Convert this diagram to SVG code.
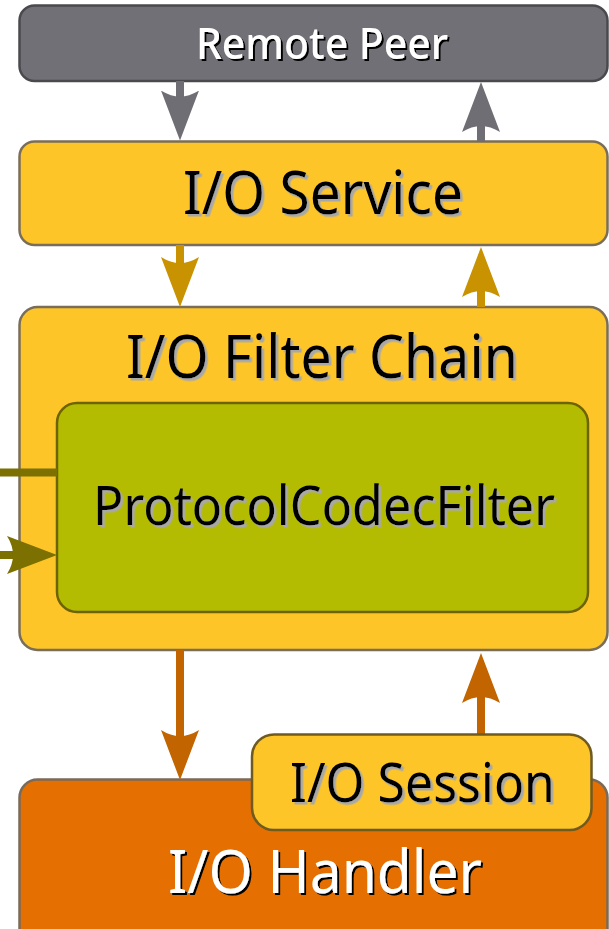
<svg xmlns="http://www.w3.org/2000/svg" width="609" height="929" viewBox="0 0 609 929">
<defs>
<style>
.box{stroke-width:2.5}
.t{font-family:"Noto Sans","Open Sans","DejaVu Sans",sans-serif;}
.dark{fill:#000;filter:url(#shL)}
.light{fill:#fff;filter:url(#shD)}
.shaft{fill:none;stroke-width:8;stroke-linecap:butt}
</style>
<filter id="shL" x="-5%" y="-20%" width="115%" height="150%">
<feDropShadow dx="2.5" dy="2.5" stdDeviation="0" flood-color="#a8a8a8" flood-opacity="1"/>
</filter>
<filter id="shD" x="-5%" y="-20%" width="115%" height="150%">
<feDropShadow dx="2" dy="2" stdDeviation="0" flood-color="#000" flood-opacity="1"/>
</filter>
<marker id="mGray" viewBox="0 0 50 38" refX="20" refY="19" markerWidth="50" markerHeight="38" markerUnits="userSpaceOnUse" orient="auto">
<path d="M50,19 L0,0 Q12,19 0,38 Z" fill="#6E6E74"/>
</marker>
<marker id="mGold" viewBox="0 0 50 38" refX="20" refY="19" markerWidth="50" markerHeight="38" markerUnits="userSpaceOnUse" orient="auto">
<path d="M50,19 L0,0 Q12,19 0,38 Z" fill="#C89200"/>
</marker>
<marker id="mOrange" viewBox="0 0 50 38" refX="20" refY="19" markerWidth="50" markerHeight="38" markerUnits="userSpaceOnUse" orient="auto">
<path d="M50,19 L0,0 Q12,19 0,38 Z" fill="#C26400"/>
</marker>
<marker id="mOlive" viewBox="0 0 50 38" refX="20" refY="19" markerWidth="50" markerHeight="38" markerUnits="userSpaceOnUse" orient="auto">
<path d="M50,19 L0,0 Q12,19 0,38 Z" fill="#7B7000"/>
</marker>
</defs>
<rect width="609" height="929" fill="#fff"/>

<g id="remote-peer">
<rect class="box" x="19.5" y="5.5" width="588" height="75.5" rx="15" fill="#707076" stroke="#4a4a4e"/>
<text class="t light" x="196" y="58.5" font-size="43" font-weight="500" textLength="252" lengthAdjust="spacingAndGlyphs">Remote Peer</text>
</g>

<g id="io-service">
<rect class="box" x="19.5" y="141.5" width="588" height="103.5" rx="15" fill="#FDC528" stroke="#7a6e5a"/>
<text class="t dark" x="183" y="214" font-size="60" textLength="280" lengthAdjust="spacingAndGlyphs">I/O Service</text>
</g>

<g id="io-filter-chain">
<rect class="box" x="19.5" y="307" width="588" height="343" rx="18" fill="#FDC528" stroke="#7a6e5a"/>
<text class="t dark" x="126" y="378" font-size="60" textLength="392" lengthAdjust="spacingAndGlyphs">I/O Filter Chain</text>
</g>

<g id="protocol-codec-filter">
<rect class="box" x="57" y="403" width="531" height="209" rx="20" fill="#B3BC00" stroke="#6D6300"/>
<text class="t dark" x="93" y="525" font-size="54" textLength="462" lengthAdjust="spacingAndGlyphs">ProtocolCodecFilter</text>
</g>

<g id="io-handler">
<rect class="box" x="19.5" y="779.5" width="588" height="175" rx="18" fill="#E56F00" stroke="#7a6a5a"/>
<text class="t light" x="168" y="893" font-size="60" textLength="314" lengthAdjust="spacingAndGlyphs">I/O Handler</text>
</g>

<g id="connectors">
<path class="shaft" d="M180,81 V110.5" stroke="#6E6E74" marker-end="url(#mGray)"/>
<path class="shaft" d="M481,141 V112" stroke="#6E6E74" marker-end="url(#mGray)"/>
<path class="shaft" d="M180,245 V277" stroke="#C89200" marker-end="url(#mGold)"/>
<path class="shaft" d="M481,307 V277" stroke="#C89200" marker-end="url(#mGold)"/>
<path class="shaft" d="M180,650 V750" stroke="#C26400" marker-end="url(#mOrange)"/>
<path class="shaft" d="M481,734 V683" stroke="#C26400" marker-end="url(#mOrange)"/>
<path class="shaft" d="M0,472.5 H57" stroke="#7B7000" stroke-width="7"/>
<path class="shaft" d="M0,555 H27" stroke="#7B7000" stroke-width="7" marker-end="url(#mOlive)"/>
</g>

<g id="io-session">
<rect class="box" x="252" y="734.5" width="339.5" height="95.5" rx="22" fill="#FDC528" stroke="#6f5a20"/>
<text class="t dark" x="290" y="802" font-size="55" textLength="265" lengthAdjust="spacingAndGlyphs">I/O Session</text>
</g>
</svg>
